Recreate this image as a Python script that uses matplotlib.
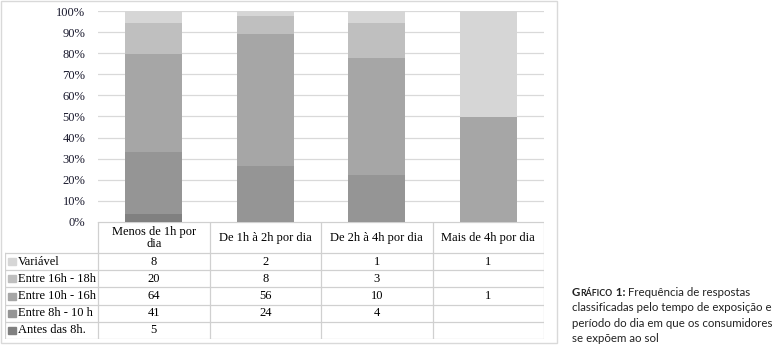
import matplotlib
matplotlib.use("Agg")
import matplotlib.pyplot as plt
from matplotlib.patches import Rectangle

categories = ["Menos de 1h por\ndia", "De 1h à 2h por dia", "De 2h à 4h por dia", "Mais de 4h por dia"]
series_names = ["Variável", "Entre 16h - 18h", "Entre 10h - 16h", "Entre 8h - 10 h", "Antes das 8h."]
variavel = [8, 2, 1, 1]
entre_16_18 = [20, 8, 3, 0]
entre_10_16 = [64, 56, 10, 1]
entre_8_10 = [41, 24, 4, 0]
antes_8 = [5, 0, 0, 0]
series_values = [variavel, entre_16_18, entre_10_16, entre_8_10, antes_8]
colors = ["#d6d6d6", "#bfbfbf", "#a6a6a6", "#959595", "#808080"]

serif = "Liberation Serif"
fsize = 9
plt.rcParams["font.family"] = [serif, "DejaVu Serif"]

W, H = 778, 350
fig = plt.figure(figsize=(W / 100, H / 100), dpi=100)

def px_box(x0, y0, x1, y1):
    # pixel box (top-left origin) -> figure fraction rect
    return [x0 / W, 1 - y1 / H, (x1 - x0) / W, (y1 - y0) / H]

# outer frame of the chart
frame = Rectangle((0.5 / W, 1 - 343 / H), 556 / W, 342.5 / H, transform=fig.transFigure,
                  fill=False, edgecolor="#d9d9d9", lw=1)
fig.patches.append(frame)

# stacked 100% bars
ax = fig.add_axes(px_box(98, 11, 544, 222))
x = list(range(len(categories)))
totals = [sum(s[i] for s in series_values) for i in x]
bottom = [0.0] * len(x)
for name, vals, col in reversed(list(zip(series_names, series_values, colors))):
    pct = [v / t for v, t in zip(vals, totals)]
    ax.bar(x, pct, 0.51, bottom=bottom, color=col, zorder=3)
    bottom = [b + p for b, p in zip(bottom, pct)]

ax.set_xlim(-0.5, 3.5)
ax.set_ylim(0, 1)
ax.set_yticks([i / 10 for i in range(11)])
ax.set_yticklabels([f"{i * 10}%" for i in range(11)])
ax.set_xticks([])
ax.tick_params(axis="y", length=0, pad=9, labelsize=fsize, labelcolor="#1a1a2e")
ax.grid(axis="y", color="#d9d9d9", lw=0.9, zorder=0)
for s in ax.spines.values():
    s.set_visible(False)

# data table under the bars
header_h = 31
row_h = 17.2
tab_bottom = header_h + row_h * len(series_names)
label_w = 93 / 111.5
tx = fig.add_axes(px_box(5, 222, 544, 222 + tab_bottom))
tx.set_xlim(-0.5 - label_w, 3.5)
tx.set_ylim(tab_bottom, 0)
tx.axis("off")
line_kw = dict(color="#d0d0d0", lw=0.9)
left = -0.5 - label_w
# vertical lines
tx.plot([left, left], [header_h, tab_bottom], **line_kw)
for i in range(len(categories) + 1):
    tx.plot([i - 0.5, i - 0.5], [0, tab_bottom], **line_kw)
# horizontal lines
tx.plot([-0.5, 3.5], [0, 0], **line_kw)
for r in range(len(series_names) + 1):
    yy = header_h + r * row_h
    tx.plot([left, 3.5], [yy, yy], **line_kw)

for i, c in enumerate(categories):
    tx.text(i, header_h / 2 + 0.5, c, ha="center", va="center", fontsize=fsize, linespacing=1.1)

for r, (name, vals, col) in enumerate(zip(series_names, series_values, colors)):
    yc = header_h + (r + 0.5) * row_h
    tx.add_patch(Rectangle((left + 0.03, yc - 3.5), 0.065, 7, color=col, clip_on=False))
    tx.text(left + 0.115, yc, name, ha="left", va="center", fontsize=fsize)
    for i, v in enumerate(vals):
        if v:
            tx.text(i, yc, str(v), ha="center", va="center", fontsize=fsize)

# caption with small-caps label
cap_font = "Lato"
renderer = fig.canvas.get_renderer()

def put(xp, yp, s, size, weight="normal"):
    t = fig.text(xp / W, 1 - yp / H, s, fontfamily=cap_font, fontsize=size,
                 fontweight=weight, color="#222222", va="baseline")
    bb = t.get_window_extent(renderer)
    return xp + bb.width

x0 = 572
y0 = 296
xp = put(x0, y0, "G", 8.3, "bold")
xp = put(xp, y0, "RÁFICO", 6.3, "bold")
xp = put(xp, y0, " 1:", 8.3, "bold")
put(xp, y0, " Frequência de respostas", 8.3)
lines = ["classificadas pelo tempo de exposição e",
         "período do dia em que os consumidores",
         "se expõem ao sol"]
for k, ln in enumerate(lines):
    put(x0, y0 + 15.3 * (k + 1), ln, 8.3)

fig.savefig("out.png", dpi=100)
